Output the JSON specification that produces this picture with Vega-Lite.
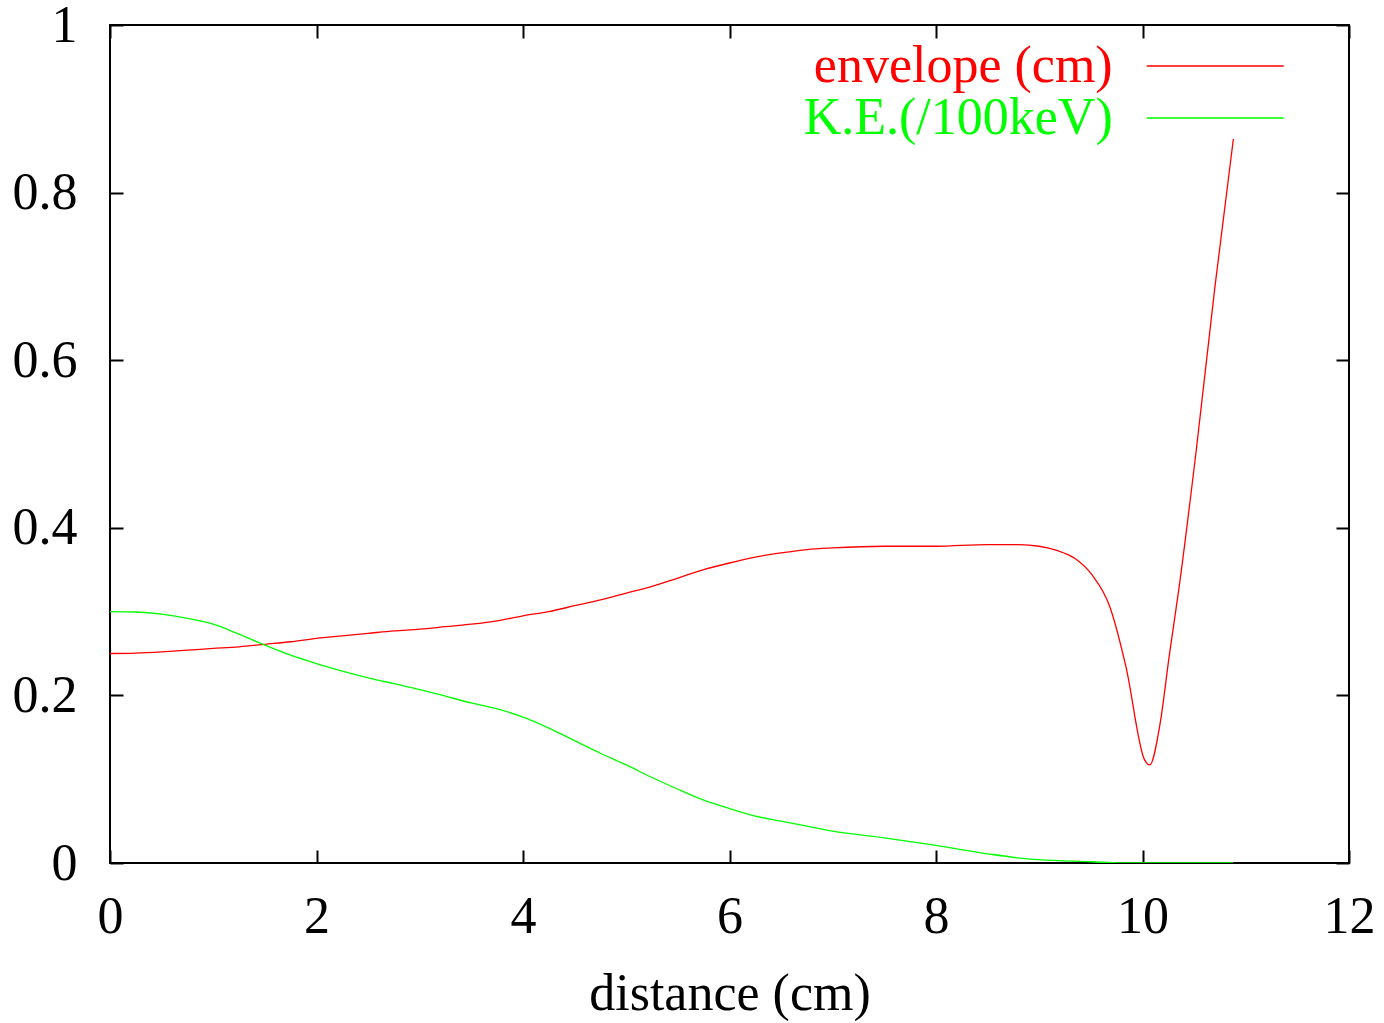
{
  "$schema": "https://vega.github.io/schema/vega-lite/v6.json",
  "width": 1239,
  "height": 838,
  "autosize": {"type": "none"},
  "padding": {"left": 110, "top": 25, "right": 35, "bottom": 160},
  "background": "white",
  "config": {
    "view": {"stroke": "black", "strokeWidth": 2},
    "font": "Liberation Serif",
    "axis": {"domain": false, "grid": false, "labelFlush": false, "tickColor": "black", "tickWidth": 2, "tickSize": -13, "labelFont": "Liberation Serif", "labelFontSize": 52, "labelColor": "black", "titleFont": "Liberation Serif", "titleFontSize": 52, "titleFontWeight": "normal", "titleColor": "black"}
  },
  "data": {"values": [
    {"s": "envelope (cm)", "x": 0, "y": 0.25},
    {"s": "envelope (cm)", "x": 0.25, "y": 0.2505},
    {"s": "envelope (cm)", "x": 0.5, "y": 0.252},
    {"s": "envelope (cm)", "x": 0.75, "y": 0.254},
    {"s": "envelope (cm)", "x": 1.0, "y": 0.256},
    {"s": "envelope (cm)", "x": 1.25, "y": 0.258},
    {"s": "envelope (cm)", "x": 1.5, "y": 0.261},
    {"s": "envelope (cm)", "x": 1.75, "y": 0.264},
    {"s": "envelope (cm)", "x": 2.0, "y": 0.268},
    {"s": "envelope (cm)", "x": 2.25, "y": 0.271},
    {"s": "envelope (cm)", "x": 2.5, "y": 0.274},
    {"s": "envelope (cm)", "x": 2.75, "y": 0.277},
    {"s": "envelope (cm)", "x": 3.0, "y": 0.279},
    {"s": "envelope (cm)", "x": 3.25, "y": 0.282},
    {"s": "envelope (cm)", "x": 3.5, "y": 0.285},
    {"s": "envelope (cm)", "x": 3.75, "y": 0.289},
    {"s": "envelope (cm)", "x": 4.0, "y": 0.295},
    {"s": "envelope (cm)", "x": 4.25, "y": 0.3},
    {"s": "envelope (cm)", "x": 4.5, "y": 0.307},
    {"s": "envelope (cm)", "x": 4.75, "y": 0.314},
    {"s": "envelope (cm)", "x": 5.0, "y": 0.322},
    {"s": "envelope (cm)", "x": 5.25, "y": 0.33},
    {"s": "envelope (cm)", "x": 5.5, "y": 0.34},
    {"s": "envelope (cm)", "x": 5.75, "y": 0.35},
    {"s": "envelope (cm)", "x": 6.0, "y": 0.358},
    {"s": "envelope (cm)", "x": 6.25, "y": 0.365},
    {"s": "envelope (cm)", "x": 6.5, "y": 0.37},
    {"s": "envelope (cm)", "x": 6.75, "y": 0.374},
    {"s": "envelope (cm)", "x": 7.0, "y": 0.376},
    {"s": "envelope (cm)", "x": 7.5, "y": 0.378},
    {"s": "envelope (cm)", "x": 8.0, "y": 0.378},
    {"s": "envelope (cm)", "x": 8.5, "y": 0.38},
    {"s": "envelope (cm)", "x": 8.8, "y": 0.38},
    {"s": "envelope (cm)", "x": 9.0, "y": 0.378},
    {"s": "envelope (cm)", "x": 9.17, "y": 0.373},
    {"s": "envelope (cm)", "x": 9.35, "y": 0.363},
    {"s": "envelope (cm)", "x": 9.51, "y": 0.344},
    {"s": "envelope (cm)", "x": 9.68, "y": 0.307},
    {"s": "envelope (cm)", "x": 9.84, "y": 0.234},
    {"s": "envelope (cm)", "x": 10.02, "y": 0.123},
    {"s": "envelope (cm)", "x": 10.07, "y": 0.117},
    {"s": "envelope (cm)", "x": 10.17, "y": 0.166},
    {"s": "envelope (cm)", "x": 10.26, "y": 0.248},
    {"s": "envelope (cm)", "x": 10.35, "y": 0.325},
    {"s": "envelope (cm)", "x": 10.52, "y": 0.492},
    {"s": "envelope (cm)", "x": 10.7, "y": 0.686},
    {"s": "envelope (cm)", "x": 10.88, "y": 0.864},
    {"s": "K.E.(/100keV)", "x": 0, "y": 0.3},
    {"s": "K.E.(/100keV)", "x": 0.25, "y": 0.2995},
    {"s": "K.E.(/100keV)", "x": 0.5, "y": 0.297},
    {"s": "K.E.(/100keV)", "x": 0.75, "y": 0.292},
    {"s": "K.E.(/100keV)", "x": 1.0, "y": 0.285},
    {"s": "K.E.(/100keV)", "x": 1.25, "y": 0.273},
    {"s": "K.E.(/100keV)", "x": 1.5, "y": 0.26},
    {"s": "K.E.(/100keV)", "x": 1.75, "y": 0.248},
    {"s": "K.E.(/100keV)", "x": 2.0, "y": 0.238},
    {"s": "K.E.(/100keV)", "x": 2.25, "y": 0.229},
    {"s": "K.E.(/100keV)", "x": 2.5, "y": 0.221},
    {"s": "K.E.(/100keV)", "x": 2.75, "y": 0.214},
    {"s": "K.E.(/100keV)", "x": 3.0, "y": 0.207},
    {"s": "K.E.(/100keV)", "x": 3.25, "y": 0.199},
    {"s": "K.E.(/100keV)", "x": 3.5, "y": 0.191},
    {"s": "K.E.(/100keV)", "x": 3.75, "y": 0.184},
    {"s": "K.E.(/100keV)", "x": 4.0, "y": 0.174},
    {"s": "K.E.(/100keV)", "x": 4.25, "y": 0.161},
    {"s": "K.E.(/100keV)", "x": 4.5, "y": 0.146},
    {"s": "K.E.(/100keV)", "x": 4.75, "y": 0.131},
    {"s": "K.E.(/100keV)", "x": 5.0, "y": 0.117},
    {"s": "K.E.(/100keV)", "x": 5.25, "y": 0.102},
    {"s": "K.E.(/100keV)", "x": 5.5, "y": 0.088},
    {"s": "K.E.(/100keV)", "x": 5.75, "y": 0.075},
    {"s": "K.E.(/100keV)", "x": 6.0, "y": 0.065},
    {"s": "K.E.(/100keV)", "x": 6.25, "y": 0.056},
    {"s": "K.E.(/100keV)", "x": 6.5, "y": 0.05},
    {"s": "K.E.(/100keV)", "x": 6.75, "y": 0.044},
    {"s": "K.E.(/100keV)", "x": 7.0, "y": 0.038},
    {"s": "K.E.(/100keV)", "x": 7.5, "y": 0.03},
    {"s": "K.E.(/100keV)", "x": 8.0, "y": 0.021},
    {"s": "K.E.(/100keV)", "x": 8.5, "y": 0.011},
    {"s": "K.E.(/100keV)", "x": 8.84, "y": 0.0056},
    {"s": "K.E.(/100keV)", "x": 9.0, "y": 0.004},
    {"s": "K.E.(/100keV)", "x": 9.5, "y": 0.0015},
    {"s": "K.E.(/100keV)", "x": 9.8, "y": 0},
    {"s": "K.E.(/100keV)", "x": 10.0, "y": 0},
    {"s": "K.E.(/100keV)", "x": 10.5, "y": 0},
    {"s": "K.E.(/100keV)", "x": 10.88, "y": 0}
  ]},
  "layer": [
    {
      "mark": {"type": "line", "strokeWidth": 1.3, "clip": true, "interpolate": "monotone"},
      "encoding": {
        "x": {"field": "x", "type": "quantitative", "scale": {"domain": [0, 12], "nice": false, "zero": false},
          "axis": {"orient": "bottom", "values": [0, 2, 4, 6, 8, 10, 12], "title": "distance (cm)", "labelPadding": 41, "titlePadding": 26}},
        "y": {"field": "y", "type": "quantitative", "scale": {"domain": [0, 1], "nice": false},
          "axis": {"orient": "left", "values": [0, 0.2, 0.4, 0.6, 0.8, 1], "format": "~g", "title": null, "labelPadding": 46}},
        "color": {"field": "s", "type": "nominal", "sort": null,
          "scale": {"domain": ["envelope (cm)", "K.E.(/100keV)"], "range": ["#ff0000", "#00ff00"]},
          "legend": {"title": null, "orient": "none", "legendX": 840, "legendY": 15, "padding": 0,
            "symbolType": "M0,0H10", "symbolSize": 751, "symbolStrokeWidth": 1.3, "symbolOffset": 170.7,
            "labelAlign": "right", "labelOffset": -60, "labelFont": "Liberation Serif", "labelFontSize": 52, "labelLimit": 0, "rowPadding": 0,
            "encode": {"labels": {"update": {"fill": {"scale": "color", "field": "value"}}}}}},
        "order": {"field": "x", "type": "quantitative"}
      }
    },
    {
      "mark": {"type": "point", "opacity": 0},
      "encoding": {
        "x": {"field": "x", "type": "quantitative", "axis": {"orient": "top", "values": [0, 2, 4, 6, 8, 10, 12], "labels": false, "title": null}},
        "y": {"field": "y", "type": "quantitative", "axis": {"orient": "right", "values": [0, 0.2, 0.4, 0.6, 0.8, 1], "labels": false, "title": null}}
      }
    }
  ],
  "resolve": {"axis": {"x": "independent", "y": "independent"}}
}
